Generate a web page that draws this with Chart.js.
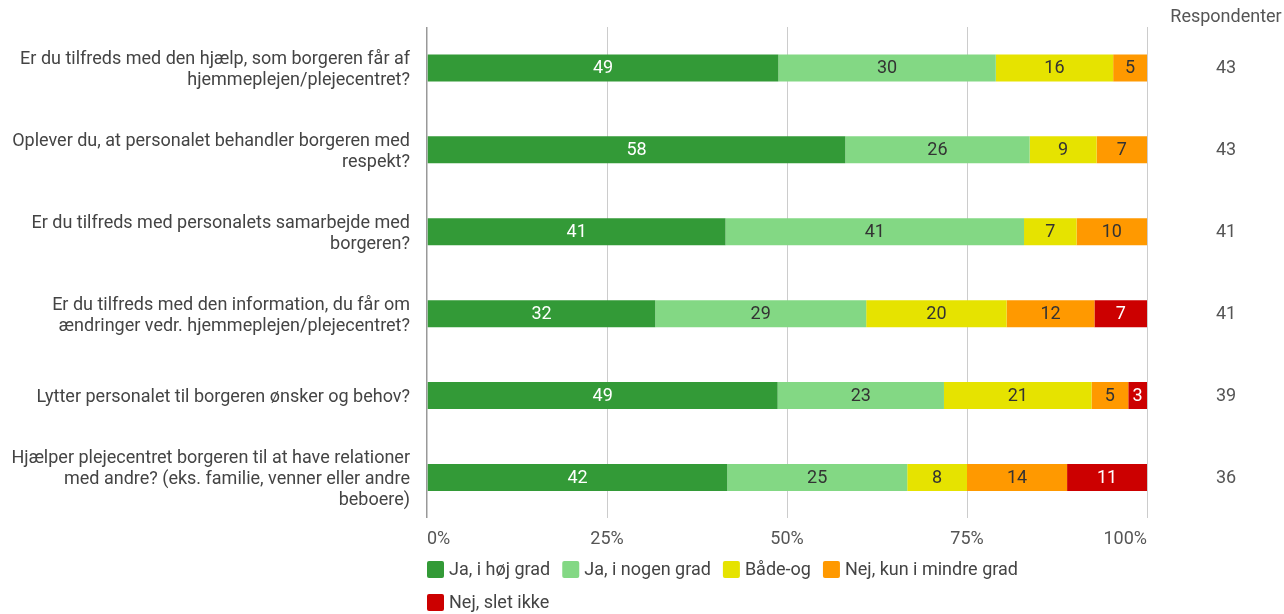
<!DOCTYPE html>
<html><head><meta charset="utf-8">
<script src="https://cdn.jsdelivr.net/npm/chart.js@4"></script>
<style>html,body{margin:0;padding:0;background:#fff}#wrap{width:1284px;height:614px;position:relative}</style>
</head><body><div id="wrap"><canvas id="c"></canvas></div>
<script>
const questions = [
  ["Er du tilfreds med den hjælp, som borgeren får af", "hjemmeplejen/plejecentret?"],
  ["Oplever du, at personalet behandler borgeren med", "respekt?"],
  ["Er du tilfreds med personalets samarbejde med", "borgeren?"],
  ["Er du tilfreds med den information, du får om", "ændringer vedr. hjemmeplejen/plejecentret?"],
  ["Lytter personalet til borgeren ønsker og behov?"],
  ["Hjælper plejecentret borgeren til at have relationer", "med andre? (eks. familie, venner eller andre", "beboere)"]
];
const seriesNames = ["Ja, i høj grad", "Ja, i nogen grad", "Både-og", "Nej, kun i mindre grad", "Nej, slet ikke"];
const jaHoej    = [48.8, 58.1, 41.46, 31.7, 48.7, 41.7];
const jaNogen   = [30.2, 25.6, 41.46, 29.3, 23.1, 25.0];
const baadeOg   = [16.3,  9.3,  7.3,  19.5, 20.5,  8.3];
const nejMindre = [ 4.7,  7.0,  9.8,  12.2,  5.1, 13.9];
const nejSlet   = [ 0,    0,    0,     7.3,  2.6, 11.1];
const respondenter = [43, 43, 41, 41, 39, 36];
const respHeader = "Respondenter";
const xTickStep = 25;

const colors = ["#339a37", "#83d884", "#e6e300", "#ff9900", "#cc0000"];
const labelColors = ["#ffffff", "#333333", "#333333", "#333333", "#ffffff"];
const FONT = "Roboto";
const FS = 18;

const seriesValues = [jaHoej, jaNogen, baadeOg, nejMindre, nejSlet];

const valueLabels = {
  id: 'valueLabels',
  afterDatasetsDraw(chart) {
    const ctx = chart.ctx;
    ctx.save();
    ctx.font = FS + "px " + FONT;
    ctx.textAlign = "center";
    ctx.textBaseline = "middle";
    chart.data.datasets.forEach((ds, di) => {
      const meta = chart.getDatasetMeta(di);
      meta.data.forEach((el, i) => {
        const v = ds.data[i];
        if (!v) return;
        ctx.fillStyle = labelColors[di];
        ctx.fillText(String(Math.round(v)), (el.x + el.base) / 2, el.y + 1);
      });
    });
    const yScale = chart.scales.y;
    const cx = chart.chartArea.right + 79;
    ctx.fillStyle = "#555555";
    ctx.fillText(respHeader, cx, 17);
    respondenter.forEach((n, i) => {
      ctx.fillText(String(n), cx, yScale.getPixelForValue(i) + 1);
    });
    ctx.restore();
  }
};

const customLegend = {
  id: 'customLegend',
  afterDraw(chart) {
    const ctx = chart.ctx;
    const ca = chart.chartArea;
    ctx.save();
    ctx.font = FS + "px " + FONT;
    ctx.textBaseline = "middle";
    ctx.textAlign = "left";
    let x = ca.left, y = ca.bottom + 51;
    const box = 17, gapText = 5, gapItem = 12, rowH = 33;
    chart.data.datasets.forEach((ds, i) => {
      const w = box + gapText + ctx.measureText(ds.label).width;
      if (x > ca.left && x + w > ca.right) { x = ca.left; y += rowH; }
      ctx.fillStyle = ds.backgroundColor;
      ctx.beginPath();
      if (ctx.roundRect) ctx.roundRect(x, y - box / 2, box, box, 2); else ctx.rect(x, y - box / 2, box, box);
      ctx.fill();
      ctx.fillStyle = "#444444";
      ctx.fillText(ds.label, x + box + gapText, y + 1);
      x += w + gapItem;
    });
    ctx.restore();
  }
};

new Chart(document.getElementById('c'), {
  type: 'bar',
  data: {
    labels: questions,
    datasets: seriesNames.map((name, i) => ({
      label: name,
      data: seriesValues[i],
      backgroundColor: colors[i],
      borderWidth: 0,
      barPercentage: 0.33,
      categoryPercentage: 1.0
    }))
  },
  options: {
    indexAxis: 'y',
    responsive: true,
    maintainAspectRatio: false,
    animation: false,
    devicePixelRatio: 1,
    layout: { padding: { top: 27, right: 137, bottom: 54, left: 0 } },
    plugins: { legend: { display: false }, tooltip: { enabled: false } },
    scales: {
      x: {
        stacked: true,
        min: 0, max: 100,
        afterFit: s => { s.paddingLeft = 0; s.paddingRight = 0; },
        ticks: {
          stepSize: xTickStep,
          callback: v => v + "%",
          color: "#555555",
          font: { family: FONT, size: FS },
          padding: 10,
          align: 'inner'
        },
        grid: {
          drawTicks: false,
          color: c => c.tick && c.tick.value === 0 ? "#999999" : "#cccccc",
          lineWidth: c => c.tick && c.tick.value === 0 ? 1.5 : 1
        },
        border: { display: false }
      },
      y: {
        stacked: true,
        afterFit: s => { s.width = 427; s.paddingTop = 0; s.paddingBottom = 0; },
        ticks: {
          color: "#444444",
          font: { family: FONT, size: FS, lineHeight: 1.15 },
          padding: 17,
          labelOffset: 2
        },
        grid: { display: false, drawTicks: false },
        border: { display: false }
      }
    }
  },
  plugins: [valueLabels, customLegend]
});
</script>
</body></html>
